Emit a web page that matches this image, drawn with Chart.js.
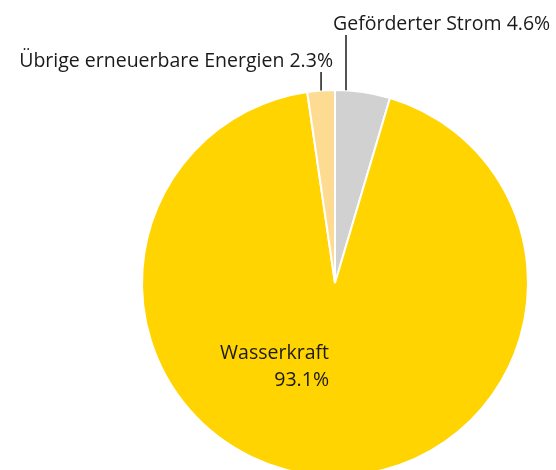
<!DOCTYPE html>
<html lang="de">
<head>
    <meta charset="UTF-8">
    <title>Strommix</title>
    <script src="https://cdn.jsdelivr.net/npm/chart.js"></script>
    <style>
        html, body {
            margin: 0;
            padding: 0;
            background: #fff;
            overflow: hidden;
        }
        #chart-container {
            width: 556px;
            height: 480px;
        }
    </style>
</head>
<body>
    <div id="chart-container">
        <canvas id="pieChart"></canvas>
    </div>

    <script>
        const labels = ['Geförderter Strom', 'Wasserkraft', 'Übrige erneuerbare Energien'];
        const values = [4.6, 93.1, 2.3];
        const colors = ['#d1d1d1', '#ffd400', '#fddb93'];

        const fontFamily = '"Open Sans", sans-serif';
        const fontSize = 19.5;

        // Beschriftungen mit Führungslinien
        const labelPlugin = {
            id: 'sliceLabels',
            afterDatasetsDraw(chart) {
                const ctx = chart.ctx;
                const arcs = chart.getDatasetMeta(0).data;
                const cx = arcs[0].x;
                const cy = arcs[0].y;
                const r = arcs[0].outerRadius;
                const pct = v => v.toFixed(1) + '%';

                ctx.save();
                ctx.fillStyle = '#1a1a1a';
                ctx.strokeStyle = '#1a1a1a';
                ctx.lineWidth = 1.5;
                ctx.font = fontSize + 'px ' + fontFamily;
                ctx.textBaseline = 'alphabetic';

                // Geförderter Strom (oben rechts)
                let lx = cx + 11;
                let ly = cy - Math.sqrt(r * r - 11 * 11);
                ctx.beginPath();
                ctx.moveTo(lx, ly);
                ctx.lineTo(lx, 35);
                ctx.stroke();
                ctx.textAlign = 'left';
                ctx.fillText(labels[0] + ' ' + pct(values[0]), cx - 2, 30);

                // Übrige erneuerbare Energien (oben links)
                const a = arcs[2];
                const mid = (a.startAngle + a.endAngle) / 2;
                lx = cx + r * Math.cos(mid);
                ly = cy + r * Math.sin(mid);
                ctx.beginPath();
                ctx.moveTo(lx, ly);
                ctx.lineTo(lx, 72);
                ctx.stroke();
                ctx.textAlign = 'right';
                ctx.fillText(labels[2] + ' ' + pct(values[2]), cx - 2, 67);

                // Wasserkraft (innen)
                ctx.textAlign = 'right';
                ctx.fillText(labels[1], cx - 6, cy + 75.5);
                ctx.fillText(pct(values[1]), cx - 6, cy + 102.5);
                ctx.restore();
            }
        };

        const ctx = document.getElementById('pieChart').getContext('2d');
        const chart = new Chart(ctx, {
            type: 'pie',
            data: {
                labels: labels,
                datasets: [{
                    data: values,
                    backgroundColor: colors,
                    borderColor: '#ffffff',
                    borderWidth: 2
                }]
            },
            options: {
                responsive: true,
                maintainAspectRatio: false,
                animation: false,
                layout: {
                    padding: { top: 89, bottom: 3, left: 141, right: 27 }
                },
                plugins: {
                    legend: { display: false },
                    tooltip: { enabled: false }
                }
            },
            plugins: [labelPlugin]
        });
    </script>
</body>
</html>
